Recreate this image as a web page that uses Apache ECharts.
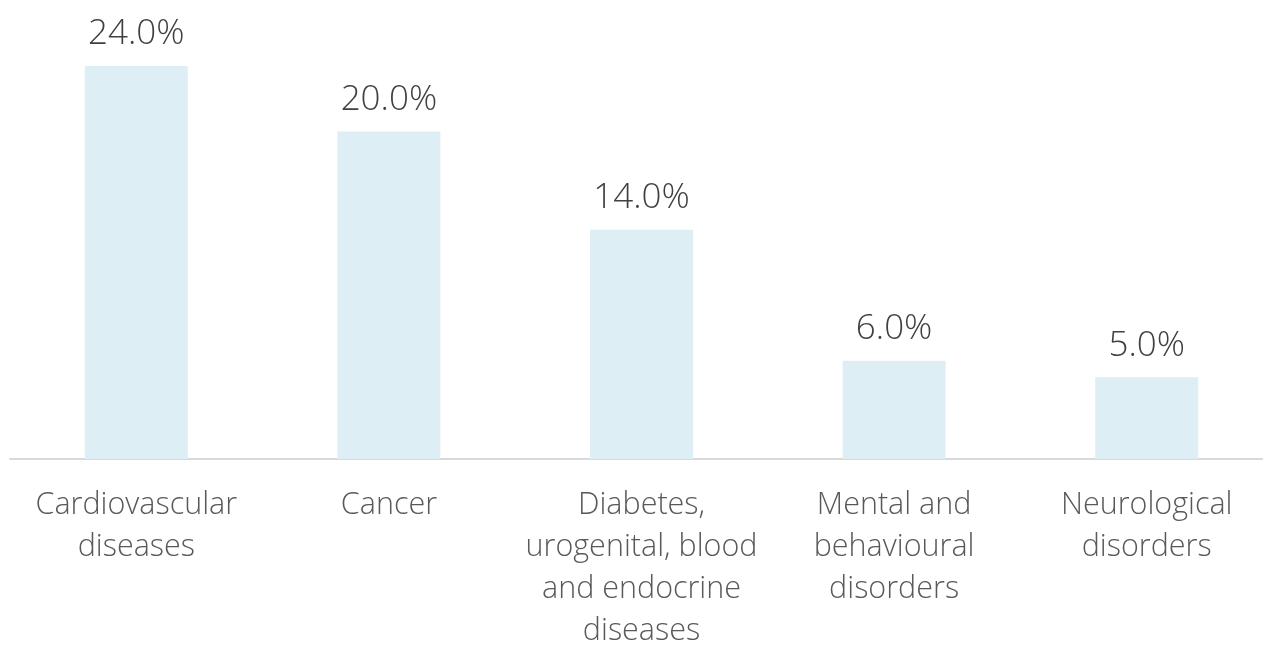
<!DOCTYPE html>
<html>
<head>
<meta charset="utf-8">
<script src="https://cdn.jsdelivr.net/npm/echarts@6/dist/echarts.min.js"></script>
<style>html,body{margin:0;padding:0;background:#fff;overflow:hidden}#c{width:1273px;height:645px}</style>
</head>
<body>
<div id="c"></div>
<script>
const categories = ["Cardiovascular diseases", "Cancer", "Diabetes, urogenital, blood and endocrine diseases", "Mental and behavioural disorders", "Neurological disorders"];
const tickLabels = ["Cardiovascular\ndiseases", "Cancer", "Diabetes,\nurogenital, blood\nand endocrine\ndiseases", "Mental and\nbehavioural\ndisorders", "Neurological\ndisorders"];
const values = [24.0, 20.0, 14.0, 6.0, 5.0];

const chart = echarts.init(document.getElementById('c'));
chart.setOption({
  animation: false,
  grid: {left: 10, right: 0, top: 66, bottom: 186, containLabel: false, outerBoundsMode: 'none'},
  xAxis: {
    type: 'category',
    data: categories,
    axisLine: {lineStyle: {color: '#D9D9D9', width: 2}},
    axisTick: {show: false},
    axisLabel: {
      formatter: (v, i) => tickLabels[i],
      interval: 0,
      margin: 25,
      fontFamily: 'Open Sans',
      fontWeight: 300,
      fontSize: 30.5,
      lineHeight: 42,
      color: '#595959'
    }
  },
  yAxis: {type: 'value', min: 0, max: 24, show: false, splitLine: {show: false}},
  series: [{
    type: 'bar',
    data: values,
    barWidth: 103,
    itemStyle: {color: '#DDEFF5'},
    label: {
      show: true,
      position: 'top',
      distance: 14,
      formatter: p => p.value.toFixed(1) + '%',
      fontFamily: 'Open Sans',
      fontWeight: 300,
      fontSize: 35,
      color: '#404040'
    }
  }]
});
</script>
</body>
</html>
